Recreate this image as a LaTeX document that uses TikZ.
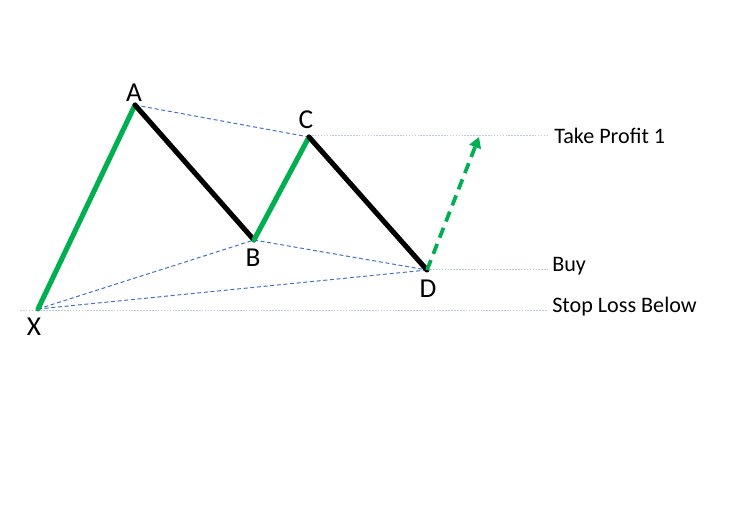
\documentclass[tikz,border=0pt]{standalone}
\usepackage{fontspec}
\setmainfont{Carlito}
\usetikzlibrary{arrows.meta}
\definecolor{wgreen}{RGB}{0,176,80}
\definecolor{wblue}{RGB}{68,114,196}
\definecolor{wgrey}{RGB}{190,200,220}
\begin{document}
\begin{tikzpicture}[x=0.75pt,y=-0.75pt,
  leg/.style={line width=3.8pt,line cap=round,line join=round},
  upleg/.style={leg,draw=wgreen},
  downleg/.style={leg,draw=black},
  guide/.style={draw=wblue,line width=0.75pt,dash pattern=on 3pt off 2pt},
  level/.style={draw=wgrey,line width=0.6pt,dash pattern=on 1.2pt off 1pt},
  ptlabel/.style={font=\fontsize{20.5}{24}\selectfont,inner sep=0pt},
  sidelabel/.style={font=\fontsize{16.6}{20}\selectfont,anchor=west,inner sep=0pt},
  target/.style={draw=wgreen,line width=2.8pt,dash pattern=on 8pt off 5pt,
    -{Triangle[width=9pt,length=8pt]}}]
\useasboundingbox (0,0) rectangle (734,514);
% pivot points
\coordinate (X) at (38,309);
\coordinate (A) at (135,105);
\coordinate (B) at (254,240);
\coordinate (C) at (309,137);
\coordinate (D) at (427,270);
\coordinate (T) at (479,137);
% level line ends
\coordinate (tpS) at (309,135);
\coordinate (tpE) at (548,135);
\coordinate (buyS) at (427,269);
\coordinate (buyE) at (548,269);
\coordinate (slS) at (20,310);
\coordinate (slE) at (548,310);
% level lines
\draw[level] (tpS) -- (tpE);
\draw[level] (buyS) -- (buyE);
\draw[level] (slS) -- (slE);
% guide lines
\draw[guide] (A) -- (C);
\draw[guide] (X) -- (B);
\draw[guide] (B) -- (D);
\draw[guide] (X) -- (D);
% legs
\draw[upleg] (X) -- (A);
\draw[downleg] (A) -- (B);
\draw[upleg] (B) -- (C);
\draw[downleg] (C) -- (D);
\draw[target] (D) -- (T);
% point labels
\node[ptlabel] (lA) at (134,93) {A};
\node[ptlabel] (lB) at (253,258) {B};
\node[ptlabel] (lC) at (306,120) {C};
\node[ptlabel] (lD) at (428,289) {D};
\node[ptlabel] (lX) at (34,327) {X};
% side labels
\node[sidelabel] (tp) at (554,136) {Take Profit 1};
\node[sidelabel] (buy) at (552,266) {Buy};
\node[sidelabel] (sl) at (552,307) {Stop Loss Below};
\end{tikzpicture}
\end{document}
